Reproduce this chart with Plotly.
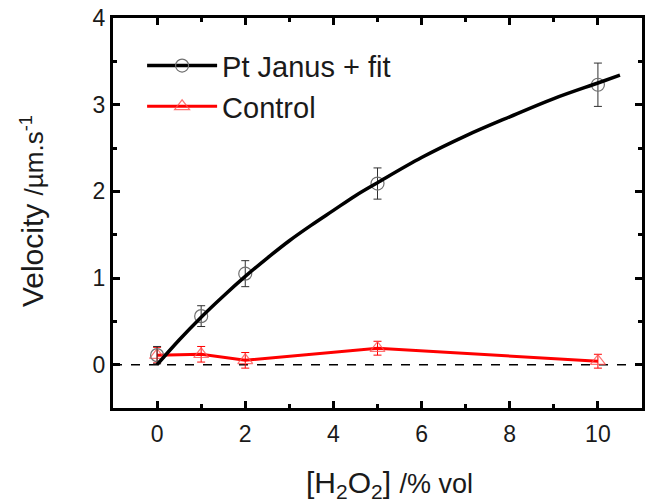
import plotly.graph_objects as go

# Data
conc = [0, 1, 2, 5, 10]
janus_v = [0.11, 0.56, 1.05, 2.09, 3.23]
janus_err = [0.10, 0.12, 0.15, 0.18, 0.25]
control_v = [0.11, 0.12, 0.05, 0.19, 0.04]
control_err = [0.09, 0.09, 0.09, 0.08, 0.08]

fit_x = [0, 0.5, 1, 1.5, 2, 2.5, 3, 3.5, 4, 4.5, 5, 6, 7, 8, 9, 10, 10.5]
fit_y = [0, 0.285, 0.548, 0.79, 1.018, 1.23, 1.43, 1.61, 1.78, 1.95, 2.10,
         2.39, 2.64, 2.86, 3.07, 3.25, 3.34]

x_ticks = [0, 2, 4, 6, 8, 10]
y_ticks = [0, 1, 2, 3, 4]

FONT = "Liberation Sans, Arial, Helvetica, sans-serif"
TXT = "#1a1a1a"

fig = go.Figure()

# Control (line + markers + error bars)
fig.add_trace(go.Scatter(
    x=conc, y=control_v, mode="lines+markers", name="Control",
    line=dict(color="#ff0000", width=3),
    marker=dict(symbol="triangle-up-open", size=13, color="rgba(255,80,80,0.8)",
                line=dict(width=1.2)),
    error_y=dict(type="data", array=control_err, visible=True,
                 color="#ff0000", thickness=1, width=4),
    showlegend=False,
))

# Pt Janus data points (markers + error bars)
fig.add_trace(go.Scatter(
    x=conc, y=janus_v, mode="markers", name="Pt Janus",
    marker=dict(symbol="circle-open", size=13, color="#707070",
                line=dict(width=1.2)),
    error_y=dict(type="data", array=janus_err, visible=True,
                 color="#303030", thickness=1, width=4),
    showlegend=False,
))

# Fit curve
fig.add_trace(go.Scatter(
    x=fit_x, y=fit_y, mode="lines", name="fit",
    line=dict(color="#000000", width=3.5, shape="spline"),
    showlegend=False,
))

# Legend entries
fig.add_trace(go.Scatter(
    x=[None], y=[None], mode="lines+markers", name="Pt Janus + fit",
    line=dict(color="#000000", width=3.5),
    marker=dict(symbol="circle-open", size=13, color="#707070", line=dict(width=1.2)),
))
fig.add_trace(go.Scatter(
    x=[None], y=[None], mode="lines+markers", name="Control",
    line=dict(color="#ff0000", width=3),
    marker=dict(symbol="triangle-up-open", size=13, color="rgba(255,80,80,0.8)",
                line=dict(width=1.2)),
))

# Dashed zero line
fig.add_shape(type="line", xref="paper", x0=0, x1=1, yref="y", y0=0, y1=0,
              line=dict(color="black", width=1.5, dash="dash"), layer="below")

axis_common = dict(
    showline=True, linecolor="black", linewidth=3, mirror="allticks",
    ticks="inside", ticklen=7, tickwidth=2.5, tickcolor="black",
    showgrid=False, zeroline=False, automargin=False,
    ticklabeloverflow="allow",
    tickfont=dict(family=FONT, size=23, color=TXT),
)

# Axis titles
fig.add_annotation(
    text="[H<sub>2</sub>O<sub>2</sub>] <span style='font-size:27px'>/% vol</span>",
    xref="paper", yref="paper", x=0.5236, y=-0.196, xanchor="center", yanchor="middle",
    showarrow=False, font=dict(size=30, family=FONT, color=TXT),
)
fig.add_annotation(
    text="Velocity <span style='font-size:26px'>/µm.s<sup>-1</sup></span>",
    xref="paper", yref="paper", x=-0.153, y=0.505, xanchor="center", yanchor="middle",
    textangle=-90, showarrow=False, font=dict(size=30, family=FONT, color=TXT),
)

fig.update_layout(
    template="none",
    width=650, height=504,
    margin=dict(l=113, r=8, t=18, b=96),
    paper_bgcolor="white", plot_bgcolor="white",
    font=dict(family=FONT, color=TXT),
    xaxis=dict(range=[-1, 11], tickvals=x_ticks, ticklabelstandoff=3,
               minor=dict(tickvals=[1, 3, 5, 7, 9], ticks="inside", ticklen=4,
                          tickwidth=2.5, tickcolor="black"),
               **axis_common),
    yaxis=dict(range=[-0.5, 4], tickvals=y_ticks,
               minor=dict(tickvals=[-0.5, 0.5, 1.5, 2.5, 3.5], ticks="inside", ticklen=4,
                          tickwidth=2.5, tickcolor="black"),
               **axis_common),
    legend=dict(x=0.055, y=0.943, xanchor="left", yanchor="top",
                bgcolor="rgba(0,0,0,0)", font=dict(size=29, family=FONT, color=TXT),
                itemwidth=70, tracegroupgap=0),
)

fig.write_html("out.html", config={"displayModeBar": False},
               post_script="document.body.style.margin='0';")
